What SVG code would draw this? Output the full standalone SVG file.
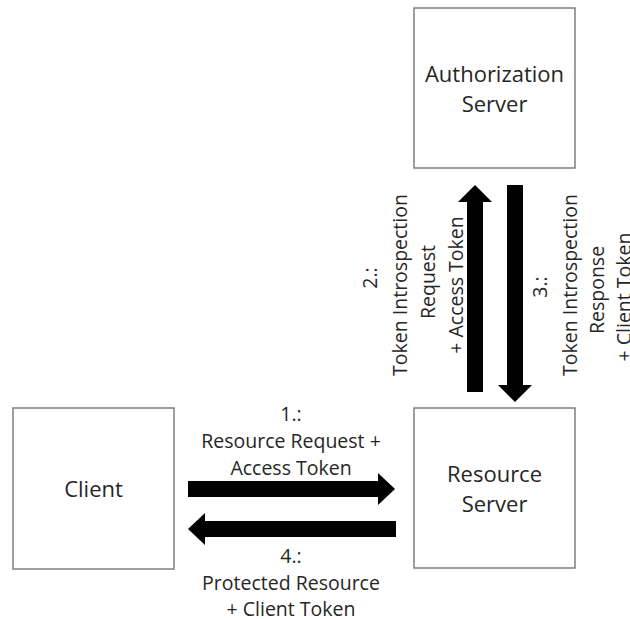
<svg xmlns="http://www.w3.org/2000/svg" width="630" height="619" viewBox="0 0 630 619">
  <style>
    .box { fill: #ffffff; stroke: #7f7f7f; stroke-width: 1.5; }
    .name { font-family: "Open Sans", "Liberation Sans", sans-serif; font-size: 22px; fill: #262626; text-anchor: middle; }
    .lbl { font-family: "Open Sans", "Liberation Sans", sans-serif; font-size: 19.5px; fill: #262626; text-anchor: middle; }
    .arrow { fill: #000000; }
  </style>
  <rect width="630" height="619" fill="#ffffff"/>

  <g id="authorization-server">
    <rect class="box" x="414" y="8" width="161" height="160"/>
    <text class="name" x="494.5" y="82">Authorization</text>
    <text class="name" x="494.5" y="112">Server</text>
  </g>

  <g id="client">
    <rect class="box" x="13" y="408" width="161" height="161"/>
    <text class="name" x="93.5" y="497">Client</text>
  </g>

  <g id="resource-server">
    <rect class="box" x="414" y="408" width="161" height="160"/>
    <text class="name" x="494.5" y="482">Resource</text>
    <text class="name" x="494.5" y="512">Server</text>
  </g>

  <g id="connectors">
    <!-- 1: client to resource server -->
    <polygon class="arrow" points="188,481 378,481 378,473 395,489 378,505 378,497 188,497"/>
    <!-- 4: resource server back to client -->
    <polygon class="arrow" points="396,521 205,521 205,513 188,529 205,545 205,537 396,537"/>
    <!-- 2: resource server up to authorization server -->
    <polygon class="arrow" points="467,392 467,202 458,202 475,185 492,202 483,202 483,392"/>
    <!-- 3: authorization server down to resource server -->
    <polygon class="arrow" points="507,185 507,385 498,385 515,402 532,385 523,385 523,185"/>

    <g id="label-1">
      <text class="lbl" x="291" y="421">1.:</text>
      <text class="lbl" x="291" y="448">Resource Request +</text>
      <text class="lbl" x="291" y="475">Access Token</text>
    </g>
    <g id="label-4">
      <text class="lbl" x="291" y="563">4.:</text>
      <text class="lbl" x="291" y="590">Protected Resource</text>
      <text class="lbl" x="291" y="616">+ Client Token</text>
    </g>
    <g id="label-2" transform="translate(0,285) rotate(-90)">
      <text class="lbl" x="7" y="377">2.:</text>
      <text class="lbl" x="0" y="407">Token Introspection</text>
      <text class="lbl" x="3" y="435">Request</text>
      <text class="lbl" x="0" y="463">+ Access Token</text>
    </g>
    <g id="label-3" transform="translate(0,285) rotate(-90)">
      <text class="lbl" x="-2" y="547">3.:</text>
      <text class="lbl" x="0" y="577">Token Introspection</text>
      <text class="lbl" x="-5" y="604">Response</text>
      <text class="lbl" x="-12" y="631">+ Client Token</text>
    </g>
  </g>
</svg>
